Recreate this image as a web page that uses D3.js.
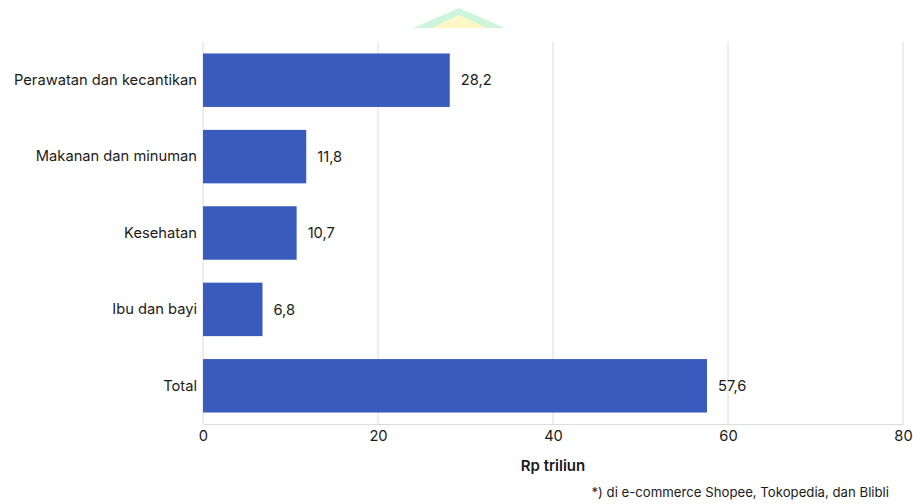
<!DOCTYPE html>
<html><head><meta charset="utf-8">
<script src="https://cdn.jsdelivr.net/npm/d3@7"></script>
<style>body{margin:0;background:#fff;font-family:Inter,"Noto Sans",sans-serif;}</style>
</head><body><svg id="c" width="913" height="504"></svg>
<script>
const categories = ["Perawatan dan kecantikan","Makanan dan minuman","Kesehatan","Ibu dan bayi","Total"];
const values = [28.2, 11.8, 10.7, 6.8, 57.6];
const valueLabels = ["28,2","11,8","10,7","6,8","57,6"];
const xTicks = [0,20,40,60,80];
const xTitle = "Rp triliun";
const footnote = "*) di e-commerce Shopee, Tokopedia, dan Blibli";

const svg = d3.select("#c");
const m = {l:203, r:903, t:42, b:424};
const x = d3.scaleLinear().domain([0,80]).range([m.l, m.r]);
const y = d3.scaleBand().domain(categories).range([m.t, m.b]).paddingInner(0.3).paddingOuter(0.15);
const fs = 14.7;

// decorative shape at top
svg.append("polygon").attr("points","413,28 459,8 505,28").attr("fill","#cdf5dc");
svg.append("polygon").attr("points","432,28 459,15 487,28").attr("fill","#fff8c6");

// gridlines
svg.append("g").selectAll("line").data(xTicks).join("line")
  .attr("x1",d=>x(d)).attr("x2",d=>x(d)).attr("y1",m.t).attr("y2",m.b)
  .attr("stroke","#dcdcdc").attr("stroke-width",1);

// bars
svg.append("g").selectAll("rect").data(values).join("rect")
  .attr("x",x(0)).attr("y",(d,i)=>y(categories[i]))
  .attr("width",d=>x(d)-x(0)).attr("height",y.bandwidth())
  .attr("fill","#3a5bbe");

// value labels
svg.append("g").selectAll("text").data(values).join("text")
  .attr("x",d=>x(d)+11).attr("y",(d,i)=>y(categories[i])+y.bandwidth()/2)
  .attr("dy","0.35em").attr("font-size",fs).attr("fill","#1a1a1a")
  .text((d,i)=>valueLabels[i]);

// y axis labels
const ya = svg.append("g").attr("transform",`translate(${m.l},0)`)
  .call(d3.axisLeft(y).tickSize(0).tickPadding(6));
ya.select(".domain").remove();
ya.selectAll("text").attr("font-size",fs).attr("fill","#1a1a1a").attr("font-family","Inter, sans-serif");

// x axis
const xa = svg.append("g").attr("transform",`translate(0,${m.b})`)
  .call(d3.axisBottom(x).tickValues(xTicks).tickSize(0).tickPadding(7).tickFormat(d3.format("d")));
xa.select(".domain").attr("stroke","#dcdcdc");
xa.selectAll("text").attr("font-size",fs).attr("fill","#1a1a1a").attr("font-family","Inter, sans-serif");

svg.append("text").attr("x",(m.l+m.r)/2).attr("y",471).attr("text-anchor","middle")
  .attr("font-size",15).attr("font-weight",600).attr("fill","#1a1a1a").text(xTitle);
svg.append("text").attr("x",889).attr("y",497).attr("text-anchor","end")
  .attr("font-size",13.2).attr("fill","#1a1a1a").text(footnote);
</script></body></html>
